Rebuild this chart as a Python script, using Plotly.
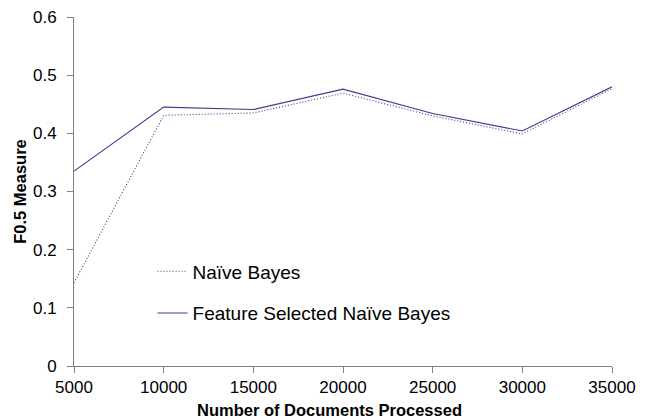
import plotly.graph_objects as go

docs = [5000, 10000, 15000, 20000, 25000, 30000, 35000]
naive_bayes = [0.143, 0.431, 0.435, 0.469, 0.430, 0.399, 0.477]
fs_naive_bayes = [0.335, 0.445, 0.441, 0.476, 0.434, 0.404, 0.480]
x_ticks = [5000, 10000, 15000, 20000, 25000, 30000, 35000]
y_ticks = [0, 0.1, 0.2, 0.3, 0.4, 0.5, 0.6]

line_color = "#3c3c8c"
fig = go.Figure()
fig.add_trace(go.Scatter(x=docs, y=naive_bayes, mode="lines", name="Naïve Bayes",
                         legendgroup="a",
                         line=dict(color=line_color, width=1.1, dash="1px,2px")))
fig.add_trace(go.Scatter(x=docs, y=fs_naive_bayes, mode="lines", name="Feature Selected Naïve Bayes",
                         legendgroup="b",
                         line=dict(color=line_color, width=1.1)))

font = "Liberation Sans, Arial, sans-serif"
fig.update_layout(
    width=643, height=411,
    margin=dict(l=66, r=39, t=9, b=53),
    paper_bgcolor="white", plot_bgcolor="white",
    font=dict(family=font, size=17, color="black"),
    showlegend=True,
    legend=dict(x=0.146, y=0.3255, xanchor="left", yanchor="top",
                bgcolor="rgba(0,0,0,0)", font=dict(size=19),
                tracegroupgap=14, traceorder="grouped"),
    xaxis=dict(range=[5000, 35000], tickvals=x_ticks, ticktext=[str(v) for v in x_ticks],
               showgrid=False, zeroline=False, showline=True, linecolor="#808080", linewidth=1,
               ticks="outside", ticklen=6, tickcolor="#808080", automargin=False,
               ticklabeloverflow="allow"),
    yaxis=dict(range=[0, 0.6], tickvals=y_ticks, ticktext=["0", "0.1", "0.2", "0.3", "0.4", "0.5", "0.6"],
               showgrid=False, zeroline=False, showline=True, linecolor="#808080", linewidth=1,
               ticks="outside", ticklen=6, tickcolor="#808080", automargin=False,
               ticklabeloverflow="allow", ticklabelstandoff=7,
               title=dict(text="<b>F0.5 Measure</b>", font=dict(size=16.5), standoff=2)),
    annotations=[dict(text="<b>Number of Documents Processed</b>", xref="paper", yref="paper",
                      x=0.474, y=-0.0937, xanchor="center", yanchor="top", showarrow=False,
                      font=dict(size=16.5))],
)
fig.write_html("out.html")
